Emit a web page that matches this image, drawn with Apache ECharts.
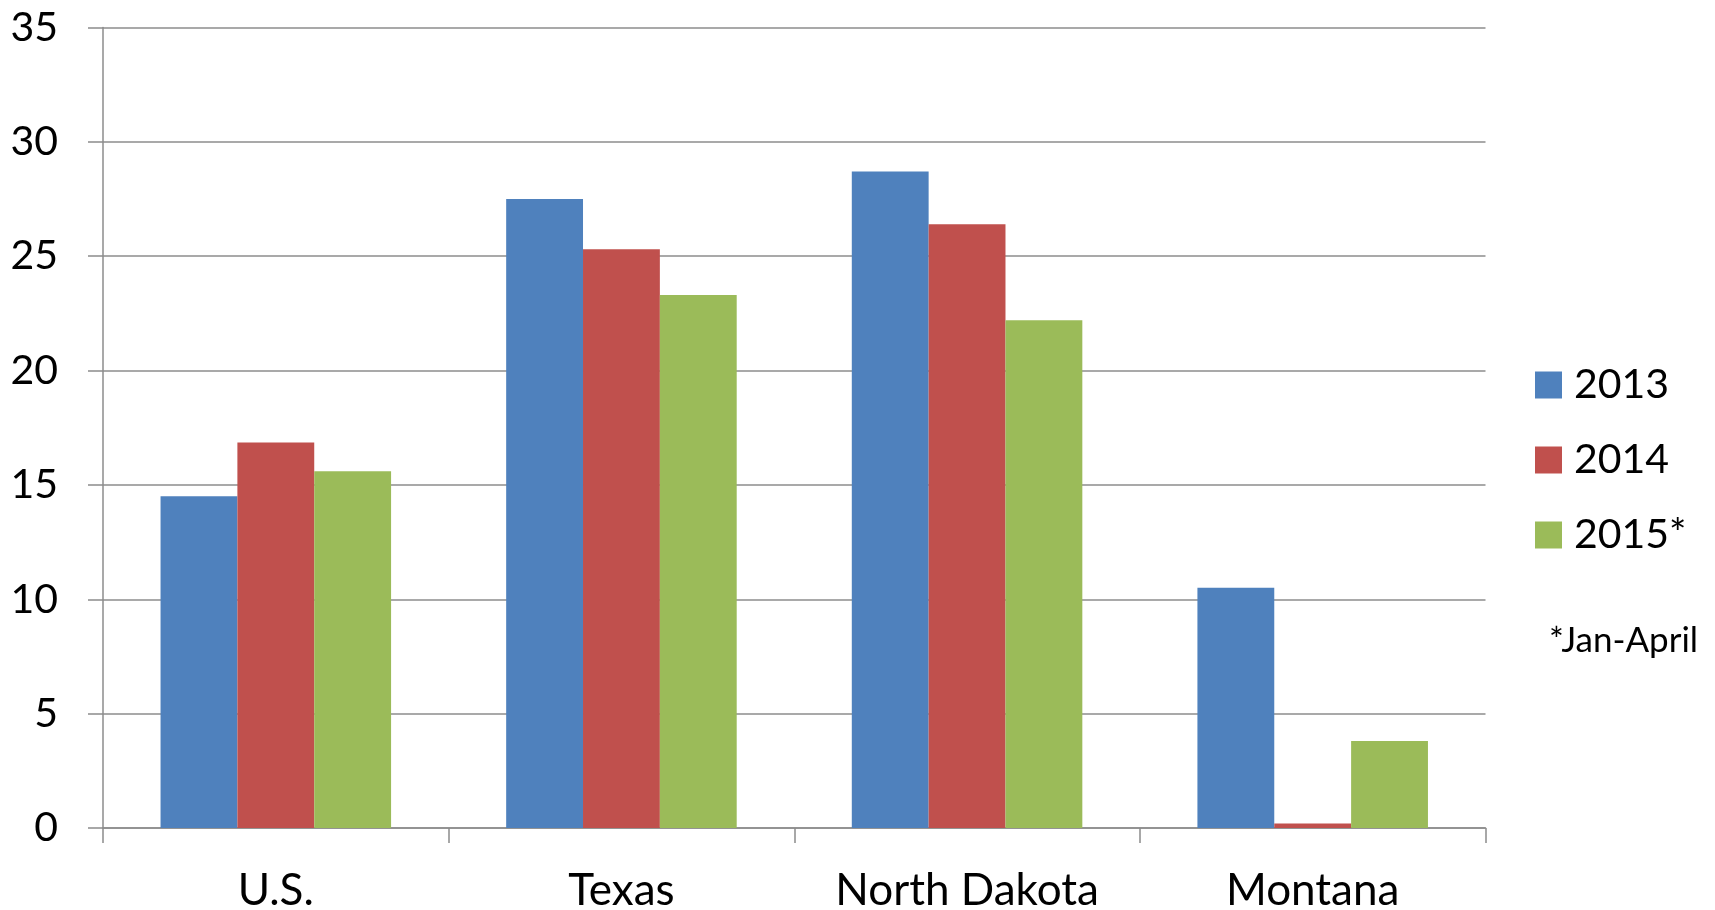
<!DOCTYPE html>
<html>
<head>
<meta charset="utf-8">
<script src="https://cdn.jsdelivr.net/npm/echarts@6/dist/echarts.min.js"></script>
<style>
html,body{margin:0;padding:0;background:#fff;}
#chart{width:1715px;height:910px;}
</style>
</head>
<body>
<div id="chart"></div>
<script>
const categories = ['U.S.', 'Texas', 'North Dakota', 'Montana'];
const seriesNames = ['2013', '2014', '2015*'];
const values2013 = [14.5, 27.5, 28.7, 10.5];
const values2014 = [16.85, 25.3, 26.4, 0.2];
const values2015 = [15.6, 23.3, 22.2, 3.8];
const yTicks = { min: 0, max: 35, interval: 5 };
const footnote = '*Jan-April';

const colors = ['#4F81BD', '#C0504D', '#9BBB59'];
const gridColor = '#8c8c8c';
const font = 'Lato';

const chart = echarts.init(document.getElementById('chart'));
const allValues = [values2013, values2014, values2015];
chart.setOption({
  animation: false,
  backgroundColor: '#ffffff',
  textStyle: { fontFamily: font },
  grid: { left: 103, top: 27.5, right: 229.5, bottom: 82, containLabel: false, outerBoundsMode: 'none' },
  legend: {
    orient: 'vertical',
    left: 1530,
    top: 359,
    itemWidth: 27,
    itemHeight: 27,
    itemGap: 33,
    icon: 'rect',
    textStyle: { fontFamily: font, fontSize: 41, color: '#000', lineHeight: 42, padding: [0, 0, 0, 7] },
    data: seriesNames
  },
  xAxis: {
    type: 'category',
    data: categories,
    axisLine: { lineStyle: { color: gridColor, width: 1.5 } },
    axisTick: { show: true, length: 15, alignWithLabel: false, lineStyle: { color: gridColor, width: 1.5 } },
    axisLabel: { fontFamily: font, fontSize: 44, color: '#000', margin: 41 }
  },
  yAxis: {
    type: 'value',
    min: yTicks.min,
    max: yTicks.max,
    interval: yTicks.interval,
    axisLine: { show: true, lineStyle: { color: gridColor, width: 1.5 } },
    axisTick: { show: true, length: 15, lineStyle: { color: gridColor, width: 1.5 } },
    splitLine: { show: true, lineStyle: { color: gridColor, width: 1.5 } },
    axisLabel: { fontFamily: font, fontSize: 41, color: '#000', margin: 45 }
  },
  series: seriesNames.map((name, i) => ({
    name: name,
    type: 'bar',
    data: allValues[i],
    barGap: '0%',
    barCategoryGap: '33.3%',
    itemStyle: { color: colors[i] }
  })),
  graphic: [{
    type: 'text',
    left: 1549,
    top: 623,
    style: { text: footnote, font: '35px Lato', fill: '#000' }
  }]
});
</script>
</body>
</html>
